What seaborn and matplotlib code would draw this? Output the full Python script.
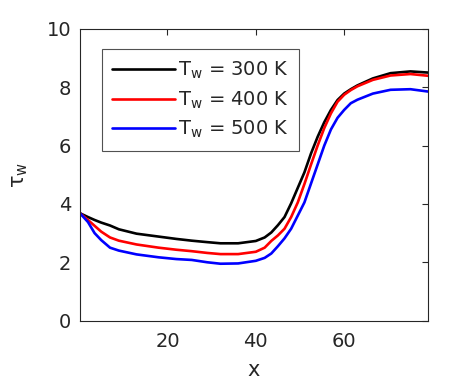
import numpy as np
import pandas as pd
import matplotlib
matplotlib.use("Agg")
import matplotlib.pyplot as plt
import seaborn as sns

# wall shear stress profiles
x_vals = [0.2, 2, 3.5, 5, 7, 9, 13, 18, 22, 25.5, 29, 32, 36, 40, 42, 43.5,
          45, 46.5, 48, 49.5, 51, 52.5, 54, 55.5, 57, 58.5, 60, 61.5, 63,
          66.5, 70.5, 75, 79]
tau_300 = [3.68, 3.55, 3.45, 3.36, 3.26, 3.13, 2.98, 2.88, 2.80, 2.74, 2.69,
           2.65, 2.65, 2.73, 2.85, 3.02, 3.27, 3.55, 4.02, 4.55, 5.08, 5.73,
           6.30, 6.80, 7.22, 7.56, 7.78, 7.93, 8.06, 8.30, 8.48, 8.54, 8.50]
tau_400 = [3.68, 3.45, 3.25, 3.05, 2.85, 2.74, 2.61, 2.50, 2.43, 2.38, 2.32,
           2.28, 2.28, 2.36, 2.50, 2.73, 2.92, 3.15, 3.55, 4.05, 4.68, 5.35,
           6.00, 6.60, 7.10, 7.50, 7.74, 7.90, 8.03, 8.25, 8.40, 8.45, 8.39]
tau_500 = [3.68, 3.38, 3.00, 2.76, 2.50, 2.40, 2.27, 2.17, 2.11, 2.08, 2.00,
           1.95, 1.96, 2.05, 2.15, 2.30, 2.55, 2.82, 3.15, 3.60, 4.05, 4.70,
           5.35, 6.00, 6.55, 6.95, 7.22, 7.45, 7.57, 7.78, 7.91, 7.93, 7.85]
labels = [r"T$_\mathregular{w}$ = 300 K",
          r"T$_\mathregular{w}$ = 400 K",
          r"T$_\mathregular{w}$ = 500 K"]
colors = ["black", "red", "blue"]

df = pd.concat([
    pd.DataFrame({"x": x_vals, "tau": t, "case": lab})
    for t, lab in zip([tau_300, tau_400, tau_500], labels)
])

sns.set_style("white")
plt.rcParams["font.family"] = ["DejaVu Sans"]
plt.rcParams["mathtext.fontset"] = "dejavusans"

fig = plt.figure(figsize=(4.72, 3.84), dpi=100)
ax = fig.add_axes([0.169, 0.165, 0.738, 0.760])

sns.lineplot(data=df, x="x", y="tau", hue="case", palette=colors,
             linewidth=1.9, ax=ax, sort=False)

ax.set_xlim(0.15, 79)
ax.set_ylim(0, 10)
ax.set_xticks([20, 40, 60])
ax.set_yticks([0, 2, 4, 6, 8, 10])
ax.tick_params(direction="in", length=4, width=0.8, top=True, right=True,
               labelsize=14, colors="#262626", labelcolor="#262626")
ax.tick_params(axis="x", pad=8)
ax.tick_params(axis="y", pad=6)
for s in ax.spines.values():
    s.set_color("#262626")
    s.set_linewidth(0.8)

ax.set_xlabel("x", fontsize=15, color="#262626", labelpad=7)
ax.set_ylabel(r"τ$_\mathregular{w}$", fontsize=15, color="#262626", labelpad=12)

leg = ax.legend(loc="upper left", bbox_to_anchor=(0.063, 0.93), fontsize=14,
                frameon=True, fancybox=False, edgecolor="#262626",
                handlelength=3.2, handletextpad=0.15, labelspacing=0.42,
                borderpad=0.55, borderaxespad=0)
leg.get_frame().set_linewidth(0.8)
for line in leg.get_lines():
    line.set_linewidth(1.9)

fig.savefig("out.png", dpi=100)
